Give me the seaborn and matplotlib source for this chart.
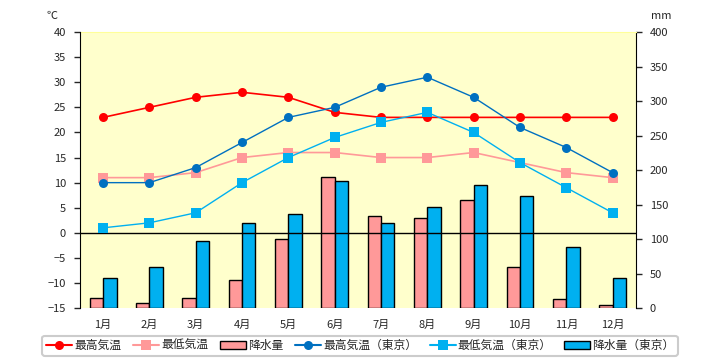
import numpy as np
import pandas as pd
import seaborn as sns
from matplotlib import pyplot as plt
from matplotlib.lines import Line2D
from matplotlib.patches import Patch

months = [f"{m}月" for m in range(1, 13)]

# temperatures (deg C)
max_temp = [23, 25, 27, 28, 27, 24, 23, 23, 23, 23, 23, 23]
min_temp = [11, 11, 12, 15, 16, 16, 15, 15, 16, 14, 12, 11]
max_temp_tokyo = [10, 10, 13, 18, 23, 25, 29, 31, 27, 21, 17, 12]
min_temp_tokyo = [1, 2, 4, 10, 15, 19, 22, 24, 20, 14, 9, 4]

# precipitation (mm)
rain = [15, 7, 15, 41, 100, 190, 133, 130, 156, 59, 13, 5]
rain_tokyo = [43, 59, 98, 124, 137, 184, 124, 147, 179, 163, 88, 44]

RED = "#ff0000"
PINK = "#ff9999"
DBLUE = "#0070c0"
LBLUE = "#00b0f0"


def main():
    sns.set_style("white")
    plt.rcParams['font.family'] = ['Noto Sans CJK JP', 'DejaVu Sans']

    fig = plt.figure(figsize=(7.2, 3.6), dpi=100)
    ax_t = fig.add_axes([0.111, 0.144, 0.772, 0.767])
    ax_r = ax_t.twinx()

    # bars on the right (mm) axis
    bars = pd.DataFrame({
        "month": months * 2,
        "mm": rain + rain_tokyo,
        "kind": ["降水量"] * 12 + ["降水量（東京）"] * 12,
    })
    sns.barplot(data=bars, x="month", y="mm", hue="kind",
                palette=[PINK, LBLUE], saturation=1, width=0.58, gap=0,
                edgecolor="black", linewidth=1.0, legend=False, ax=ax_r)

    # lines on the left (temperature) axis
    x = np.arange(12)
    line_specs = [
        (max_temp, RED, "o", 1.2),
        (min_temp, PINK, "s", 1.2),
        (max_temp_tokyo, DBLUE, "o", 1.0),
        (min_temp_tokyo, LBLUE, "s", 1.0),
    ]
    for vals, col, mk, lw in line_specs:
        sns.lineplot(x=x, y=vals, color=col, marker=mk, markersize=6.5,
                     markeredgewidth=0, linewidth=lw, ax=ax_t)
    ax_t.axhline(0, color="black", lw=1.0, zorder=1)

    ax_t.set_zorder(ax_r.get_zorder() + 1)
    ax_t.patch.set_visible(False)
    ax_r.patch.set_visible(True)
    ax_r.set_facecolor("#ffffcc")

    ax_t.set_xlim(-0.5, 11.5)
    ax_r.set_xlim(-0.5, 11.5)
    ax_t.set_ylim(-15, 40)
    ax_t.set_yticks(range(-15, 41, 5))
    ax_r.set_ylim(0, 400)
    ax_r.set_yticks(range(0, 401, 50))
    ax_t.set_xticks(x)
    ax_t.set_xticklabels(months)
    ax_r.set_xlabel("")
    ax_r.set_ylabel("")
    ax_t.set_ylabel("")

    for a in (ax_t, ax_r):
        for s in a.spines.values():
            s.set_visible(False)
    ax_t.spines["left"].set_visible(True)
    ax_t.spines["left"].set_color("black")
    ax_r.spines["right"].set_visible(True)
    ax_r.spines["right"].set_color("black")
    ax_r.spines["top"].set_visible(True)
    ax_r.spines["top"].set_color("#ffff99")

    ax_t.tick_params(axis="y", left=True, length=4, width=1, labelsize=8, pad=6)
    ax_r.tick_params(axis="y", right=True, length=4, width=1, labelsize=8, pad=6)
    ax_t.tick_params(axis="x", bottom=False, labelsize=8, pad=5)
    ax_r.tick_params(axis="x", bottom=False, labelbottom=False)

    fig.text(0.072, 0.955, "℃", fontsize=8, ha="center", va="center")
    fig.text(0.918, 0.955, "mm", fontsize=8, ha="center", va="center")

    handles = [
        Line2D([], [], color=RED, marker="o", markersize=6.5, markeredgewidth=0),
        Line2D([], [], color=PINK, marker="s", markersize=6.5, markeredgewidth=0),
        Patch(facecolor=PINK, edgecolor="black"),
        Line2D([], [], color=DBLUE, marker="o", markersize=6.5, markeredgewidth=0),
        Line2D([], [], color=LBLUE, marker="s", markersize=6.5, markeredgewidth=0),
        Patch(facecolor=LBLUE, edgecolor="black"),
    ]
    labels = ["最高気温", "最低気温", "降水量", "最高気温（東京）", "最低気温（東京）", "降水量（東京）"]
    leg = fig.legend(handles, labels, loc="center", bbox_to_anchor=(0.5, 0.04),
                     ncol=6, fontsize=8.5, frameon=True, fancybox=True,
                     handlelength=2.2, handletextpad=0.2, columnspacing=1.0,
                     borderpad=0.3, edgecolor="#c0c0c0")
    leg.get_frame().set_linewidth(1.5)

    fig.savefig("out.png", dpi=100)
    plt.close(fig)


if __name__ == '__main__':
    main()
